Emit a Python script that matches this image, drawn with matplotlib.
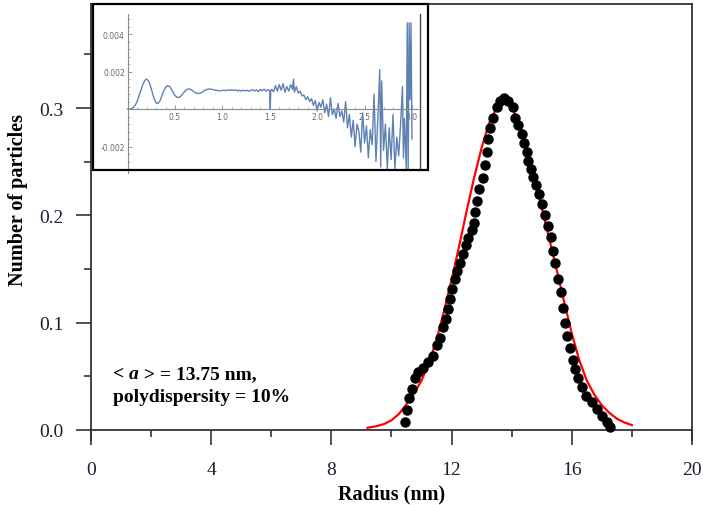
import matplotlib
matplotlib.use("Agg")
import matplotlib.pyplot as plt
from matplotlib.patches import Rectangle
from matplotlib.ticker import FixedLocator, MultipleLocator, NullFormatter

# measured size distribution (black dots)
radius_meas = [10.45, 10.53, 10.59, 10.67, 10.78, 10.89, 11.06, 11.23, 11.39, 11.50,
               11.61, 11.72, 11.81, 11.89, 11.95, 12.03, 12.11, 12.19, 12.28, 12.39,
               12.48, 12.56, 12.67, 12.76, 12.78, 12.86, 12.92, 13.03, 13.11, 13.17,
               13.22, 13.28, 13.39, 13.50, 13.61, 13.74, 13.89, 14.03, 14.11, 14.22,
               14.33, 14.41, 14.50, 14.55, 14.66, 14.72, 14.81, 14.92, 15.00, 15.11,
               15.22, 15.30, 15.38, 15.44, 15.55, 15.63, 15.70, 15.77, 15.85, 15.94,
               16.03, 16.11, 16.22, 16.33, 16.49, 16.66, 16.83, 16.99, 17.16, 17.27]
count_meas = [0.007, 0.019, 0.030, 0.038, 0.048, 0.054, 0.058, 0.063, 0.069, 0.079,
              0.086, 0.096, 0.103, 0.113, 0.122, 0.131, 0.141, 0.148, 0.156, 0.164,
              0.172, 0.179, 0.186, 0.193, 0.203, 0.213, 0.225, 0.235, 0.247, 0.259,
              0.271, 0.281, 0.291, 0.301, 0.307, 0.309, 0.307, 0.301, 0.291, 0.284,
              0.276, 0.267, 0.259, 0.251, 0.243, 0.236, 0.228, 0.220, 0.211, 0.200,
              0.190, 0.180, 0.167, 0.156, 0.141, 0.129, 0.114, 0.100, 0.088, 0.076,
              0.065, 0.057, 0.048, 0.040, 0.032, 0.026, 0.020, 0.013, 0.007, 0.003]

# fitted distribution (red line)
radius_fit = [9.2, 9.5, 9.75, 10.0, 10.25, 10.5, 10.75, 11.0, 11.25, 11.5,
              11.75, 12.0, 12.25, 12.5, 12.75, 13.0, 13.25, 13.5, 13.75, 14.0,
              14.25, 14.5, 14.75, 15.0, 15.25, 15.5, 15.75, 16.0, 16.25, 16.5,
              16.75, 17.0, 17.25, 17.5, 17.75, 18.0]
count_fit = [0.002, 0.0035, 0.0055, 0.009, 0.015, 0.024, 0.034, 0.046, 0.063, 0.084,
             0.111, 0.140, 0.171, 0.204, 0.235, 0.263, 0.286, 0.300, 0.306, 0.301,
             0.286, 0.263, 0.236, 0.207, 0.178, 0.149, 0.119, 0.090, 0.065, 0.046,
             0.033, 0.023, 0.016, 0.0105, 0.007, 0.0045]

# inset curve
inset_x = [0.00, 0.02, 0.04, 0.06, 0.08, 0.10, 0.12, 0.14, 0.16, 0.18,
           0.20, 0.22, 0.24, 0.26, 0.28, 0.30, 0.32, 0.34, 0.36, 0.38,
           0.40, 0.42, 0.44, 0.46, 0.48, 0.50, 0.52, 0.54, 0.56, 0.58,
           0.60, 0.62, 0.64, 0.66, 0.68, 0.70, 0.72, 0.74, 0.76, 0.78,
           0.80, 0.82, 0.84, 0.86, 0.88, 0.90, 0.92, 0.94, 0.96, 0.98,
           1.00, 1.02, 1.04, 1.06, 1.08, 1.10, 1.12, 1.14, 1.16, 1.18,
           1.20, 1.22, 1.24, 1.26, 1.28, 1.30, 1.32, 1.34, 1.36, 1.38,
           1.40, 1.42, 1.44, 1.46, 1.48, 1.50, 1.505, 1.51, 1.52, 1.54,
           1.56, 1.58, 1.60, 1.62, 1.64, 1.66, 1.68, 1.70, 1.72, 1.74,
           1.75, 1.76, 1.78, 1.80, 1.82, 1.84, 1.86, 1.88, 1.90, 1.92,
           1.94, 1.96, 1.98, 2.00, 2.02, 2.04, 2.06, 2.08, 2.10, 2.12,
           2.14, 2.16, 2.18, 2.20, 2.22, 2.24, 2.26, 2.28, 2.30, 2.32,
           2.34, 2.36, 2.38, 2.40, 2.42, 2.44, 2.46, 2.48, 2.50, 2.52,
           2.54, 2.56, 2.58, 2.60, 2.62, 2.64, 2.66, 2.67, 2.68, 2.70,
           2.72, 2.74, 2.76, 2.78, 2.80, 2.82, 2.84, 2.86, 2.88, 2.90,
           2.91, 2.92, 2.94, 2.95, 2.96, 2.97, 2.98, 2.99, 3.00]
inset_y = [0.0, 0.0, 0.02, 0.08, 0.2, 0.4, 0.7, 1.0, 1.3, 1.52,
           1.6, 1.5, 1.25, 0.9, 0.55, 0.33, 0.3, 0.42, 0.68, 0.95,
           1.15, 1.24, 1.22, 1.08, 0.88, 0.72, 0.63, 0.62, 0.68, 0.8,
           0.93, 1.03, 1.07, 1.06, 1.0, 0.92, 0.86, 0.83, 0.84, 0.88,
           0.95, 1.01, 1.05, 1.07, 1.06, 1.04, 1.01, 0.99, 0.98, 0.98,
           0.99, 1.01, 0.98, 1.02, 1.0, 1.03, 0.99, 1.02, 0.97, 1.0,
           0.96, 1.01, 0.97, 1.0, 0.95, 0.99, 1.04, 0.96, 1.02, 0.93,
           1.05, 0.97, 1.06, 0.95, 1.03, 0.98, 0.0, 1.0, 1.05, 0.92,
           1.25, 0.95, 1.3, 1.0, 1.35, 0.9, 1.2, 0.95, 1.3, 1.05,
           1.6, 0.9, 1.2, 0.85, 0.95, 0.7, 0.75, 0.5, 0.65, 0.4,
           0.55, 0.2, 0.45, -0.1, 0.35, 0.1, 0.5, -0.2, 0.25, -0.4,
           0.6, -0.3, 0.0, -0.5, 0.3, -0.4, -0.1, -0.7, 0.4, -1.0,
           -0.3, -1.5, -0.6, -2.0, -0.8, -1.2, -2.3, -0.2, -1.8, -0.9,
           -2.6, -1.1, -1.9, 0.8, -2.8, -0.5, 2.1, -3.1, 1.5, -2.2,
           -0.8, -3.2, -1.0, -2.7, -0.3, -3.2, -1.5, -2.5, -0.8, 1.2,
           -2.6, -0.5, -3.2, 4.6, -3.2, 4.6, 0.5, 4.6, -1.6]
inset_y = [v * 1e-3 for v in inset_y]

plt.rcParams["font.family"] = ["Liberation Serif", "DejaVu Serif"]

fig = plt.figure(figsize=(7.03, 5.06), dpi=100)
ax = fig.add_axes([0.1294, 0.1292, 0.8549, 0.861])

ax.plot(radius_fit, count_fit, color="red", lw=1.6, zorder=2)
ax.plot(radius_meas, count_meas, "o", color="black", ms=6.5, zorder=3)

ax.set_xlim(0, 20)
ax.set_ylim(-0.009, 0.397)
ax.spines["bottom"].set_position(("data", 0))
for s in ax.spines.values():
    s.set_color("#333333")
    s.set_linewidth(1.3)

ax.xaxis.set_major_locator(MultipleLocator(4))
ax.xaxis.set_minor_locator(MultipleLocator(2))
ax.yaxis.set_major_locator(FixedLocator([0.0, 0.1, 0.2, 0.3]))
ax.yaxis.set_minor_locator(FixedLocator([0.05, 0.15, 0.25, 0.35]))
ax.set_yticklabels(["0.0", "0.1", "0.2", "0.3"])
ax.tick_params(which="major", direction="out", length=11, width=1.2, color="#333333",
               labelsize=14, labelcolor="#1c2033")
ax.tick_params(which="minor", direction="out", length=5, width=1.2, color="#333333")
ax.tick_params(axis="x", which="major", pad=11)
ax.tick_params(axis="y", which="major", pad=9)

ax.set_xlabel("Radius (nm)", fontsize=14.5, fontweight="bold")
ax.set_ylabel("Number of particles", fontsize=14.5, fontweight="bold")
ax.xaxis.set_label_coords(0.5, -0.100)
ax.yaxis.set_label_coords(-0.105, 0.552)

# annotation
t1 = ax.text(0.037, 0.141, "< ", transform=ax.transAxes, fontsize=14, fontweight="bold")
t2 = ax.annotate("a", xy=(1, 0), xycoords=t1, va="bottom", fontsize=14,
                 fontweight="bold", style="italic")
ax.annotate(" > = 13.75 nm,", xy=(1, 0), xycoords=t2, va="bottom", fontsize=14,
            fontweight="bold")
ax.text(0.037, 0.089, "polydispersity = 10%", transform=ax.transAxes, fontsize=14,
        fontweight="bold")

# inset
ins_rect = [0.1323, 0.662, 0.4765, 0.328]
ins = fig.add_axes(ins_rect)
ins.plot(inset_x, inset_y, color="#5e81b5", lw=1.0)
ins.set_xlim(-0.365, 3.169)
ins.set_ylim(-0.003253, 0.0056)
ins.spines["top"].set_visible(False)
ins.spines["right"].set_visible(False)
ins.spines["left"].set_position(("data", 0))
ins.spines["bottom"].set_position(("data", 0))
ins.spines["left"].set_bounds(-0.0034, 0.00507)
ins.spines["bottom"].set_bounds(0, 3.06)
for s in ("left", "bottom"):
    ins.spines[s].set_color("#8a8a8a")
    ins.spines[s].set_linewidth(0.8)
ins.axvline(3.085, ymin=0, ymax=(0.00507 + 0.003253) / 0.008853, color="#444444", lw=1.0)

ins.xaxis.set_major_locator(FixedLocator([0.5, 1.0, 1.5, 2.0, 2.5, 3.0]))
ins.xaxis.set_minor_locator(FixedLocator([0.1 * i for i in range(1, 31) if i % 5]))
ins.set_xticklabels(["0.5", "1.0", "1.5", "2.0", "2.5", "3.0"])
ins.yaxis.set_major_locator(FixedLocator([-0.002, 0.002, 0.004]))
ins.yaxis.set_minor_locator(FixedLocator([0.0004 * i for i in range(-8, 13) if i % 5]))
ins.set_yticklabels(["-0.002", "0.002", "0.004"])
ins.xaxis.set_minor_formatter(NullFormatter())
ins.tick_params(which="major", direction="in", length=3, width=0.6, color="#8a8a8a",
                labelsize=5.5, labelcolor="#666666", pad=2)
ins.tick_params(which="minor", direction="in", length=1.6, width=0.5, color="#8a8a8a")
for lab in ins.get_xticklabels() + ins.get_yticklabels():
    lab.set_family(["DejaVu Sans"])

fig.add_artist(Rectangle((ins_rect[0], ins_rect[1]), ins_rect[2], ins_rect[3],
                         transform=fig.transFigure, fill=False, ec="black", lw=1.6,
                         zorder=10))

fig.savefig("out.png", dpi=100)
